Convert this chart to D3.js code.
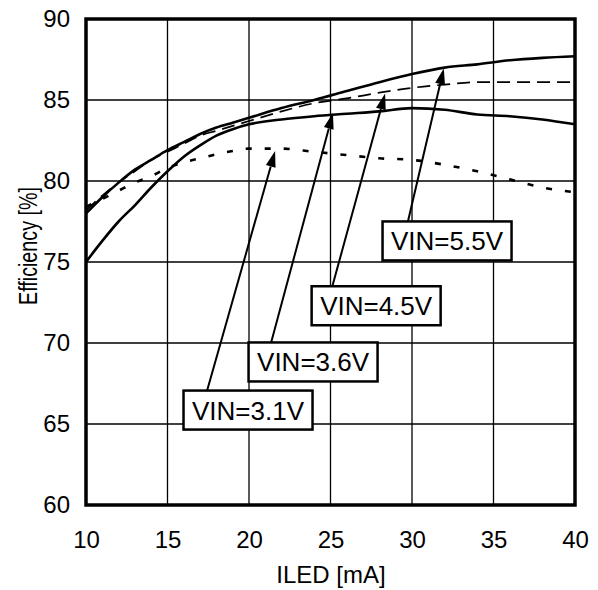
<!DOCTYPE html>
<html><head><meta charset="utf-8">
<script src="https://cdn.jsdelivr.net/npm/d3@7"></script>
<style>body{margin:0;background:#fff}text{font-family:"Liberation Sans",Arial,sans-serif;fill:#000}</style>
</head><body>
<svg id="c" width="598" height="590"></svg>
<script>
const iled = [10,11,12,13,14,15,16,17,18,19,20,22,24,26,28,30,32,34,36,38,40];
const eff31 = [78.4,78.9,79.4,79.9,80.3,80.8,81.15,81.4,81.65,81.85,82.0,82.0,81.8,81.6,81.4,81.3,81.0,80.6,80.1,79.6,79.3];
const eff36 = [75.0,76.3,77.5,78.5,79.6,80.6,81.5,82.2,82.8,83.2,83.5,83.8,84.0,84.15,84.3,84.5,84.4,84.1,84.0,83.8,83.5];
const eff45 = [78.2,79.1,79.9,80.6,81.3,81.8,82.3,82.8,83.1,83.4,83.7,84.3,84.8,85.1,85.45,85.75,85.95,86.1,86.1,86.1,86.1];
const eff55 = [78.0,79.0,79.9,80.7,81.3,81.9,82.4,82.9,83.3,83.6,83.9,84.5,85.0,85.55,86.1,86.6,87.0,87.2,87.45,87.6,87.7];
const seriesNames = ["VIN=3.1V","VIN=3.6V","VIN=4.5V","VIN=5.5V"];
const xTicks = [10,15,20,25,30,35,40];
const yTicks = [60,65,70,75,80,85,90];
// annotation anchors (data units): label box centre, arrow tail, arrow tip
const labelX = [19.94,23.93,27.8,32.15];
const labelY = [65.86,68.83,72.3,76.3];
const tailX = [17.3,21.35,25.1,29.75];
const tailY = [66.6,70.0,73.45,77.5];
const tipX = [21.6,25.15,28.35,31.95];
const tipY = [81.85,84.2,85.4,86.95];

const svg = d3.select("#c");
const L=86,R=575,T=19,B=505;
const x = d3.scaleLinear().domain([10,40]).range([L,R]);
const y = d3.scaleLinear().domain([60,90]).range([B,T]);

// grid
const g = svg.append("g");
g.selectAll(".gx").data(xTicks.slice(1,-1)).enter().append("line")
 .attr("x1",d=>x(d)).attr("x2",d=>x(d)).attr("y1",T).attr("y2",B)
 .attr("stroke","#000").attr("stroke-width",1.3);
g.selectAll(".gy").data(yTicks.slice(1,-1)).enter().append("line")
 .attr("y1",d=>y(d)).attr("y2",d=>y(d)).attr("x1",L).attr("x2",R)
 .attr("stroke","#000").attr("stroke-width",1.3);

// axes tick labels via d3 axes
const xAxis = svg.append("g").attr("transform",`translate(0,${B})`)
 .call(d3.axisBottom(x).tickValues(xTicks).tickSize(0).tickPadding(26).tickFormat(d3.format("d")));
xAxis.select(".domain").remove();
xAxis.selectAll("text").attr("font-size",24).style("font-family",'"Liberation Sans",Arial,sans-serif');
const yAxis = svg.append("g").attr("transform",`translate(${L},0)`)
 .call(d3.axisLeft(y).tickValues(yTicks).tickSize(0).tickPadding(16).tickFormat(d3.format("d")));
yAxis.select(".domain").remove();
yAxis.selectAll("text").attr("font-size",24).style("font-family",'"Liberation Sans",Arial,sans-serif');

// series
const line = d3.line().x((d,i)=>x(iled[i])).y(d=>y(d)).curve(d3.curveMonotoneX);
const series = [
 {v:eff31, w:2.6, dash:"6,13"},
 {v:eff36, w:2.6, dash:null},
 {v:eff45, w:1.7, dash:"13,7"},
 {v:eff55, w:2.6, dash:null}
];
svg.append("g").selectAll("path").data(series).enter().append("path")
 .attr("d",d=>line(d.v)).attr("fill","none").attr("stroke","#000")
 .attr("stroke-width",d=>d.w).attr("stroke-dasharray",d=>d.dash);

// frame
svg.append("rect").attr("x",L).attr("y",T).attr("width",R-L).attr("height",B-T)
 .attr("fill","none").attr("stroke","#000").attr("stroke-width",3.5);

// annotations
const ann = svg.append("g");
seriesNames.forEach((name,i)=>{
  const x1=x(tailX[i]), y1=y(tailY[i]), x2=x(tipX[i]), y2=y(tipY[i]);
  const ang=Math.atan2(y2-y1,x2-x1), len=16, hw=5;
  const bx=x2-len*Math.cos(ang), by=y2-len*Math.sin(ang);
  ann.append("line").attr("x1",x1).attr("y1",y1).attr("x2",bx).attr("y2",by)
    .attr("stroke","#000").attr("stroke-width",2);
  ann.append("path").attr("d",`M${x2},${y2}L${bx+hw*Math.sin(ang)},${by-hw*Math.cos(ang)}L${bx-hw*Math.sin(ang)},${by+hw*Math.cos(ang)}Z`)
    .attr("fill","#000");
  const cx=x(labelX[i]), cy=y(labelY[i]);
  ann.append("rect").attr("x",cx-64.5).attr("y",cy-19.5).attr("width",129).attr("height",39)
    .attr("fill","#fff").attr("stroke","#000").attr("stroke-width",2.5);
  ann.append("text").attr("x",cx).attr("y",cy+9.5).attr("text-anchor","middle")
    .attr("font-size",26).text(name);
});

// titles
svg.append("text").attr("x",331).attr("y",583).attr("text-anchor","middle")
 .attr("font-size",24).text("ILED [mA]");
svg.append("text").attr("transform","translate(37,246) rotate(-90)").attr("text-anchor","middle")
 .attr("font-size",25).attr("textLength",118).attr("lengthAdjust","spacingAndGlyphs").text("Efficiency [%]");
</script>
</body></html>
